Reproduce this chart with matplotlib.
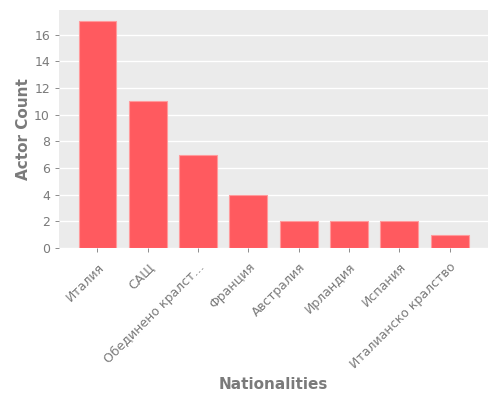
import matplotlib
matplotlib.use('Agg')
import matplotlib.pyplot as plt
import numpy as np

# data
nationalities = ['Италия', 'САЩ', 'Обединено кралст…', 'Франция', 'Австралия',
                 'Ирландия', 'Испания', 'Италианско кралство']
actor_counts = [17, 11, 7, 4, 2, 2, 2, 1]

bar_color = '#FF5A5F'
text_color = '#7A7A7A'

fig, ax = plt.subplots(figsize=(5, 4), dpi=100)
fig.subplots_adjust(left=0.118, right=0.976, top=0.975, bottom=0.38)

x = np.arange(len(nationalities))
ax.bar(x, actor_counts, width=0.75, color=bar_color, edgecolor='#FF9A9C', linewidth=0.8, zorder=3)

ax.set_facecolor('#EBEBEB')
ax.grid(axis='y', color='white', linewidth=1, zorder=0)
ax.set_axisbelow(True)
for s in ax.spines.values():
    s.set_visible(False)

ax.set_xticks(x)
ax.set_xticklabels(nationalities, rotation=45, ha='right', rotation_mode='anchor')
ax.set_yticks(np.arange(0, 17, 2))
ax.tick_params(colors=text_color, labelsize=9, length=3, width=0.6)
ax.tick_params(axis='x', pad=6)
for lbl in ax.get_xticklabels() + ax.get_yticklabels():
    lbl.set_color(text_color)

ax.set_xlabel('Nationalities', fontsize=11, fontweight='bold', color=text_color, labelpad=4)
ax.set_ylabel('Actor Count', fontsize=11, fontweight='bold', color=text_color, labelpad=2)

fig.savefig('out.png', dpi=100)
